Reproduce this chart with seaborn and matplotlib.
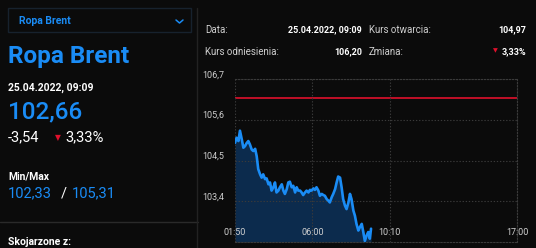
import matplotlib
matplotlib.use("Agg")
import matplotlib.pyplot as plt
import matplotlib.dates as mdates
from matplotlib.lines import Line2D
from matplotlib.patches import Rectangle
import seaborn as sns
import pandas as pd

# ---------------- data ----------------
times = ["01:50", "01:55", "02:01", "02:06", "02:12", "02:17", "02:22", "02:28", "02:33", "02:38",
         "02:44", "02:49", "02:55", "03:00", "03:05", "03:11", "03:16", "03:21", "03:27", "03:32",
         "03:38", "03:43", "03:48", "03:54", "03:59", "04:04", "04:10", "04:15", "04:21", "04:26",
         "04:31", "04:37", "04:42", "04:47", "04:53", "04:58", "05:04", "05:09", "05:14", "05:20",
         "05:25", "05:30", "05:36", "05:41", "05:47", "05:52", "05:57", "06:03", "06:08", "06:13",
         "06:19", "06:24", "06:30", "06:35", "06:40", "06:46", "06:51", "06:56", "07:02", "07:07",
         "07:13", "07:18", "07:23", "07:29", "07:34", "07:39", "07:45", "07:50", "07:56", "08:01",
         "08:06", "08:12", "08:17", "08:22", "08:28", "08:33", "08:39", "08:44", "08:49", "08:55",
         "09:00", "09:05", "09:09"]
prices = [104.98, 105.12, 105.03, 105.31, 105.07, 104.85, 104.89, 104.98, 105.03, 104.94,
          104.80, 104.76, 104.82, 104.62, 104.27, 104.13, 104.04, 104.13, 104.00, 104.02,
          103.86, 103.91, 103.69, 103.78, 103.91, 103.64, 103.69, 103.78, 103.86, 103.69,
          103.60, 103.73, 103.91, 103.93, 103.78, 103.82, 103.64, 103.78, 103.69, 103.69,
          103.64, 103.57, 103.64, 103.69, 103.64, 103.71, 103.69, 103.75, 103.71, 103.78,
          103.69, 103.55, 103.60, 103.57, 103.55, 103.46, 103.42, 103.37, 103.51, 103.60,
          103.73, 103.91, 104.07, 104.04, 103.78, 103.46, 103.28, 103.19, 103.37, 103.60,
          103.46, 103.15, 103.01, 102.79, 102.61, 102.70, 102.79, 102.57, 102.33, 102.48,
          102.57, 102.39, 102.66]
reference_price = 106.20
y_ticks = [103.4, 104.5, 105.6, 106.7]
y_tick_labels = ["103,4", "104,5", "105,6", "106,7"]
x_ticks = ["01:50", "06:00", "10:10", "17:00"]
day = "2022-04-25 "

df = pd.DataFrame({"time": pd.to_datetime([day + t for t in times]), "price": prices})

# ---------------- style ----------------
BG = "#0b0b0b"
BLUE = "#1a8cf5"
FILL = "#0c2b4d"
RED = "#e0102c"
GRID = "#3a3a3a"
LABEL = "#cfcfcf"

sns.set_theme(style="dark")
plt.rcParams["font.family"] = ["Roboto", "DejaVu Sans"]

W, H = 536, 248
fig = plt.figure(figsize=(W / 100, H / 100), dpi=100, facecolor=BG)


def px(x, y):
    return x / W, 1 - y / H


ax = fig.add_axes([235 / W, 1 - 242 / H, (517 - 235) / W, (242 - 79.3) / H])
ax.set_facecolor(BG)
ax.set_axisbelow(False)

ax.fill_between(df["time"], df["price"], 102.3, color=FILL, linewidth=0, zorder=1)
sns.lineplot(data=df, x="time", y="price", ax=ax, color=BLUE, linewidth=1.9, zorder=3)
ax.axhline(reference_price, color=RED, linewidth=1.2, zorder=2)

ax.set_ylim(102.3, 106.7)
ax.set_xlim(pd.Timestamp(day + "01:50"), pd.Timestamp(day + "17:00"))
ax.set_yticks(y_ticks)
ax.set_yticklabels(y_tick_labels)
ax.set_xticks([pd.Timestamp(day + t) for t in x_ticks])
ax.xaxis.set_major_formatter(mdates.DateFormatter("%H:%M"))
ax.set_xlabel("")
ax.set_ylabel("")
ax.grid(True, color=GRID, linestyle=(0, (1.2, 1.6)), linewidth=0.8, zorder=1.5)
ax.tick_params(axis="x", colors=LABEL, labelsize=6.5, length=0, pad=-10)
ax.tick_params(axis="y", colors=LABEL, labelsize=6.5, length=0, pad=8)
for lab in ax.get_yticklabels():
    lab.set_verticalalignment("bottom")
for lab in ax.get_xticklabels():
    lab.set_zorder(5)
for s in ax.spines.values():
    s.set_color(GRID)
    s.set_linestyle((0, (1.2, 1.6)))
    s.set_linewidth(0.8)
ax.spines["left"].set_visible(False)

# ---------------- left panel ----------------
fig.add_artist(Rectangle(px(8, 32), 183 / W, 24 / H, transform=fig.transFigure,
                         facecolor=BG, edgecolor="#17222e", linewidth=1))
fig.text(*px(19, 21), "Ropa Brent", color=BLUE, fontsize=7.5, fontweight="bold", va="center")
fig.add_artist(Line2D([176 / W, 179.5 / W, 183 / W], [1 - 20 / H, 1 - 23 / H, 1 - 20 / H],
                      transform=fig.transFigure, color=BLUE, linewidth=1.1))

fig.text(*px(8, 57), "Ropa Brent", color=BLUE, fontsize=17.5, fontweight="bold", va="center")
fig.text(*px(8, 88), "25.04.2022, 09:09", color="white", fontsize=7.5, fontweight="bold", va="center")
fig.text(*px(8, 112), "102,66", color=BLUE, fontsize=17.5, fontweight="medium", va="center")
fig.text(*px(8, 137), "-3,54", color="white", fontsize=10.5, va="center")
fig.text(*px(58, 138), "▼", color=RED, fontsize=5.5, va="center", ha="center", family=["DejaVu Sans"])
fig.text(*px(65, 137), "3,33%", color="white", fontsize=10.5, va="center")
fig.text(*px(8, 176), "Min/Max", color="white", fontsize=7.5, fontweight="bold", va="center")
fig.text(*px(8, 193), "102,33", color=BLUE, fontsize=10.5, va="center")
fig.text(*px(61, 193), "/", color="white", fontsize=10.5, va="center")
fig.text(*px(72, 193), "105,31", color=BLUE, fontsize=10.5, va="center")
fig.text(*px(8, 242), "Skojarzone z:", color="white", fontsize=7.5, fontweight="bold", va="center")

fig.add_artist(Line2D([0, 198 / W], [1 - 222 / H] * 2, transform=fig.transFigure,
                      color="#2a2a2a", linewidth=1))
fig.add_artist(Line2D([197 / W] * 2, [1 - 8 / H, 0], transform=fig.transFigure,
                      color="#222222", linewidth=1))

# ---------------- right header ----------------
fs = 7
fsb = 6.5
fig.text(*px(205, 30), "Data:", color=LABEL, fontsize=fs, va="center")
fig.text(*px(362, 30), "25.04.2022, 09:09", color="white", fontsize=fsb, fontweight="bold",
         va="center", ha="right")
fig.text(*px(369, 30), "Kurs otwarcia:", color=LABEL, fontsize=fs, va="center")
fig.text(*px(526, 30), "104,97", color="white", fontsize=fsb, fontweight="bold", va="center", ha="right")
fig.text(*px(205, 52), "Kurs odniesienia:", color=LABEL, fontsize=fs, va="center")
fig.text(*px(362, 52), "106,20", color="white", fontsize=fsb, fontweight="bold", va="center", ha="right")
fig.text(*px(369, 52), "Zmiana:", color=LABEL, fontsize=fs, va="center")
fig.text(*px(495, 51), "▼", color=RED, fontsize=4.5, va="center", ha="center", family=["DejaVu Sans"])
fig.text(*px(526, 52), "3,33%", color="white", fontsize=fsb, fontweight="bold", va="center", ha="right")

fig.savefig("out.png", dpi=100, facecolor=BG)
